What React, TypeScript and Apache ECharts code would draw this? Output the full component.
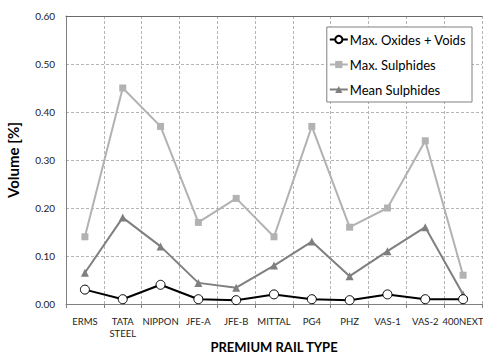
import React, { useEffect, useRef } from "react";
import * as echarts from "echarts";

const categories = [
  "ERMS",
  "TATA\nSTEEL",
  "NIPPON",
  "JFE-A",
  "JFE-B",
  "MITTAL",
  "PG4",
  "PHZ",
  "VAS-1",
  "VAS-2",
  "400NEXT",
];

const maxOxidesVoids = [0.03, 0.01, 0.04, 0.01, 0.008, 0.02, 0.01, 0.008, 0.02, 0.01, 0.01];
const maxSulphides = [0.14, 0.45, 0.37, 0.17, 0.22, 0.14, 0.37, 0.16, 0.2, 0.34, 0.06];
const meanSulphides = [0.065, 0.18, 0.12, 0.044, 0.034, 0.08, 0.13, 0.058, 0.11, 0.16, 0.02];

const FONT = "Lato";

export default function App() {
  const ref = useRef<HTMLDivElement>(null);

  useEffect(() => {
    if (!ref.current) return;
    const chart = echarts.init(ref.current, undefined, { renderer: "svg" });
    chart.setOption({
      animation: false,
      backgroundColor: "#fff",
      textStyle: { fontFamily: FONT },
      grid: {
        left: 66,
        right: 1,
        top: 16,
        bottom: 52,
        containLabel: false,
        outerBoundsMode: "none",
      },
      legend: {
        orient: "vertical",
        right: 11,
        top: 27,
        backgroundColor: "#fff",
        borderColor: "#808080",
        borderWidth: 1,
        padding: [6, 6, 6, 2],
        itemGap: 12,
        itemWidth: 18,
        itemHeight: 9,
        textStyle: { fontFamily: FONT, fontSize: 13, color: "#000", padding: [0, 0, 0, -3] },
        data: ["Max. Oxides + Voids", "Max. Sulphides", "Mean Sulphides"],
      },
      xAxis: [
        {
          type: "category",
          data: categories,
          boundaryGap: true,
          name: "PREMIUM RAIL TYPE",
          nameLocation: "middle",
          nameMoveOverlap: false,
          nameGap: 43,
          nameTextStyle: {
            fontFamily: FONT,
            fontSize: 13,
            fontWeight: "bold",
            color: "#000",
            lineHeight: 14,
            verticalAlign: "middle",
          },
          axisLine: { lineStyle: { color: "#808080", width: 1 } },
          axisTick: { show: true, length: 4, lineStyle: { color: "#808080" } },
          axisLabel: {
            interval: 0,
            margin: 11,
            fontFamily: FONT,
            fontSize: 9.5,
            color: "#222",
            lineHeight: 12,
          },
          splitLine: {
            show: true,
            interval: 0,
            lineStyle: { color: "#b4b4b4", type: [3, 2], width: 1 },
          },
        },
        {
          type: "category",
          position: "top",
          data: categories,
          axisLine: { show: true, lineStyle: { color: "#6a6a6a", width: 1 } },
          axisTick: { show: false },
          axisLabel: { show: false },
          splitLine: { show: false },
        },
      ],
      yAxis: {
        type: "value",
        min: 0,
        max: 0.6,
        interval: 0.1,
        name: "Volume [%]",
        nameLocation: "middle",
        nameRotate: 90,
        nameGap: 46,
        nameTextStyle: { fontFamily: FONT, fontSize: 15, fontWeight: "bold", color: "#000" },
        axisLine: { show: true, lineStyle: { color: "#808080", width: 1 } },
        axisTick: { show: false },
        axisLabel: {
          margin: 11,
          fontFamily: FONT,
          fontSize: 10,
          color: "#222",
          formatter: (v: number) => v.toFixed(2),
        },
        splitLine: {
          show: true,
          lineStyle: { color: "#b4b4b4", type: [3, 2], width: 1 },
        },
      },
      series: [
        {
          name: "Max. Oxides + Voids",
          type: "line",
          data: maxOxidesVoids,
          symbol: "circle",
          symbolSize: 9,
          showAllSymbol: true,
          lineStyle: { color: "#000", width: 2 },
          itemStyle: { color: "#fff", borderColor: "#000", borderWidth: 1 },
          z: 4,
        },
        {
          name: "Max. Sulphides",
          type: "line",
          data: maxSulphides,
          symbol: "rect",
          symbolSize: 7,
          showAllSymbol: true,
          lineStyle: { color: "#b2b2b2", width: 2 },
          itemStyle: { color: "#b2b2b2" },
          z: 2,
        },
        {
          name: "Mean Sulphides",
          type: "line",
          data: meanSulphides,
          symbol: "triangle",
          symbolSize: 8,
          showAllSymbol: true,
          lineStyle: { color: "#7f7f7f", width: 2 },
          itemStyle: { color: "#7f7f7f" },
          z: 3,
        },
      ],
    });
    return () => chart.dispose();
  }, []);

  return (
    <div
      ref={ref}
      style={{ width: 483, height: 356, position: "fixed", left: 0, top: 0 }}
    />
  );
}
